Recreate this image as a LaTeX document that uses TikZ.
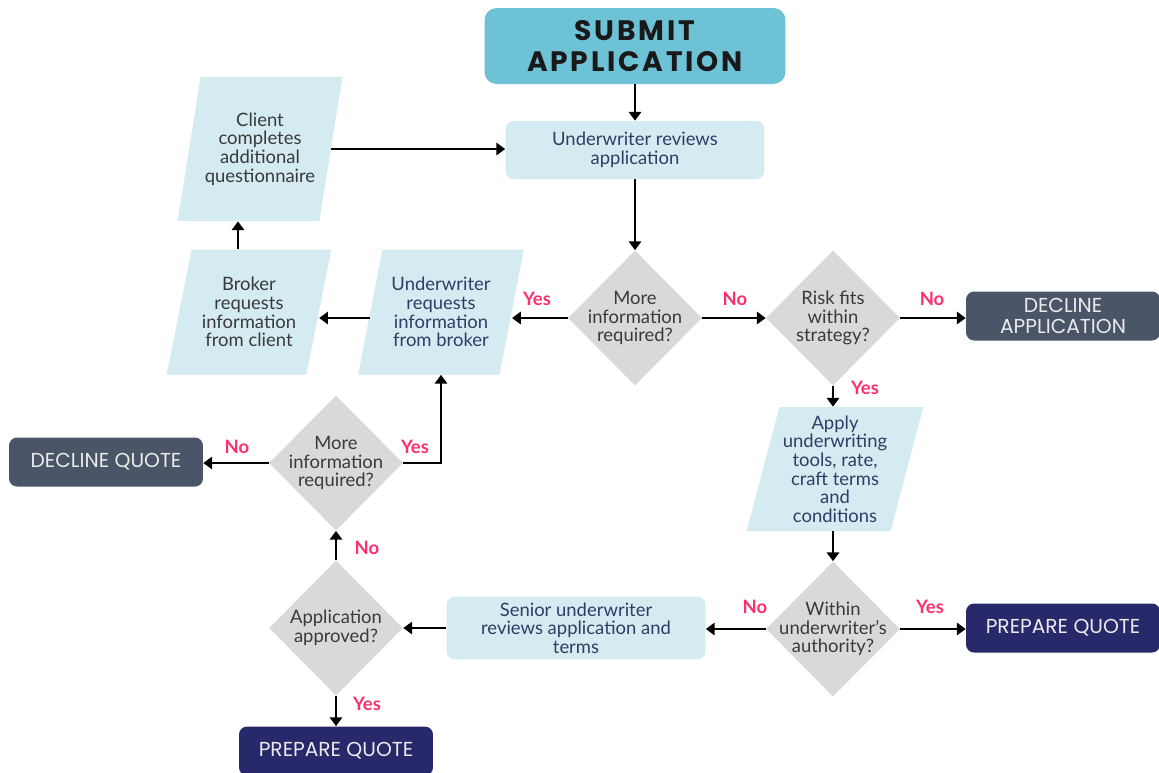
\documentclass[tikz,border=0pt]{standalone}
\usepackage{fontspec}
\setmainfont{Lato}
\newfontfamily\capsfont{Poppins}
\newfontfamily\titlefont[LetterSpace=10]{Poppins}
\usetikzlibrary{shapes.geometric,arrows.meta}

\definecolor{subteal}{HTML}{6EC2D6}
\definecolor{paleblue}{HTML}{D5EBF2}
\definecolor{diagray}{HTML}{D9D9D9}
\definecolor{slatebox}{HTML}{4A5567}
\definecolor{navybox}{HTML}{28296B}
\definecolor{answerpink}{HTML}{FF2E6E}
\definecolor{inkblue}{HTML}{2D3E66}
\definecolor{inkgray}{HTML}{3A3A3A}

\begin{document}
\begin{tikzpicture}[x=0.02cm, y=-0.02cm,
    titlebox/.style={rectangle, rounded corners=0.24cm, fill=subteal, text=black!90,
      minimum width=6.02cm, minimum height=1.52cm, align=center,
      font=\titlefont\bfseries\fontsize{16}{17.5}\selectfont},
    procbox/.style={rectangle, rounded corners=0.16cm, fill=paleblue, text=inkblue,
      minimum width=5.18cm, minimum height=1.16cm, align=center,
      font=\fontsize{10.5}{10.6}\selectfont},
    iobox/.style={trapezium, trapezium left angle=74, trapezium right angle=106,
      trapezium stretches=true, fill=paleblue, text=inkblue,
      minimum width=3.32cm, minimum height=2.5cm, align=center, inner sep=2pt,
      font=\fontsize{10.5}{10.6}\selectfont},
    decision/.style={diamond, aspect=1, fill=diagray, inner sep=0pt,
      minimum width=2.68cm, minimum height=2.7cm,
      label={[align=center, text=inkgray, font=\fontsize{10.5}{10.6}\selectfont]center:#1}},
    endbox/.style={rectangle, rounded corners=0.16cm, fill=#1, text=white!92!black,
      minimum width=3.88cm, minimum height=0.98cm, align=center,
      font=\capsfont\fontsize{11.5}{11.8}\selectfont},
    answer/.style={text=answerpink, font=\bfseries\fontsize{10.5}{12}\selectfont, inner sep=1pt},
    arr/.style={-{Triangle[length=5pt,width=7pt]}, line width=1.4pt}
  ]
  \fill[white] (0,0) rectangle (1159,772);
  \useasboundingbox (0,0) rectangle (1159,772);

  % top of the flow
  \node[titlebox] (submit) at (635,46) {SUBMIT\\APPLICATION};
  \node[procbox] (review) at (635,150) {Underwriter reviews\\application};
  \node[iobox, minimum height=2.88cm, text=inkgray] (client) at (260,149)
    {Client\\completes\\additional\\questionnaire};

  % middle row
  \node[iobox, text=inkgray] (broker) at (249,312) {Broker\\requests\\information\\from client};
  \node[iobox] (uwreq) at (441,312) {Underwriter\\requests\\information\\from broker};
  \node[decision={More\\information\\required?}] (more1) at (635,318) {};
  \node[decision={Risk fits\\within\\strategy?}] (risk) at (833,318) {};
  \node[endbox=slatebox] (declapp) at (1063,316) {DECLINE\\APPLICATION};

  % right column
  \node[iobox, minimum height=2.48cm, minimum width=3.15cm] (apply) at (835,469)
    {Apply\\underwriting\\tools, rate,\\craft terms\\and\\conditions};
  \node[decision={Within\\underwriter's\\authority?}] (within) at (833,629) {};
  \node[endbox=navybox] (prepR) at (1063,628) {PREPARE QUOTE};

  % bottom row
  \node[procbox] (senior) at (576,628) {Senior underwriter\\reviews application and\\terms};
  \node[decision={Application\\approved?}] (approved) at (336,628) {};
  \node[decision={More\\information\\required?}] (more2) at (336,463) {};
  \node[endbox=slatebox] (declq) at (106,462) {DECLINE QUOTE};
  \node[endbox=navybox] (prepB) at (336,751) {PREPARE QUOTE};

  % connectors
  \draw[arr] (submit) -- (review);
  \draw[arr] (review) -- (more1);
  \draw[arr] (client.east) -- (client.east -| review.west);
  \draw[arr] ([xshift=-0.22cm]broker.north) -- ([xshift=-0.22cm]broker.north |- client.south);
  \draw[arr] (more1.west) -- (more1.west -| uwreq.east);
  \draw[arr] (more1.west -| uwreq.west) -- (more1.west -| broker.east);
  \draw[arr] (more1.east) -- (risk.west);
  \draw[arr] (risk.east) -- (risk.east -| declapp.west);
  \draw[arr] (risk.south) -- (risk.south |- apply.north);
  \draw[arr] (apply.south -| within.north) -- (within.north);
  \draw[arr] (within.west) -- (within.west -| senior.east);
  \draw[arr] (within.east) -- (within.east -| prepR.west);
  \draw[arr] (senior.west) -- (approved.east);
  \draw[arr] (approved.north) -- (more2.south);
  \draw[arr] (approved.south) -- (prepB.north);
  \draw[arr] (more2.west) -- (more2.west -| declq.east);
  \draw[arr] (more2.east) -| (uwreq.south);

  % answers
  \node[answer] (yes1) at (537,299) {Yes};
  \node[answer] (no1) at (735,299) {No};
  \node[answer] (no2) at (932,299) {No};
  \node[answer] (yes2) at (865,388) {Yes};
  \node[answer] (no3) at (755,607) {No};
  \node[answer] (yes3) at (930,607) {Yes};
  \node[answer] (no4) at (367,548) {No};
  \node[answer] (yes4) at (367,704) {Yes};
  \node[answer] (no5) at (237,447) {No};
  \node[answer] (yes5) at (415,447) {Yes};
\end{tikzpicture}
\end{document}
